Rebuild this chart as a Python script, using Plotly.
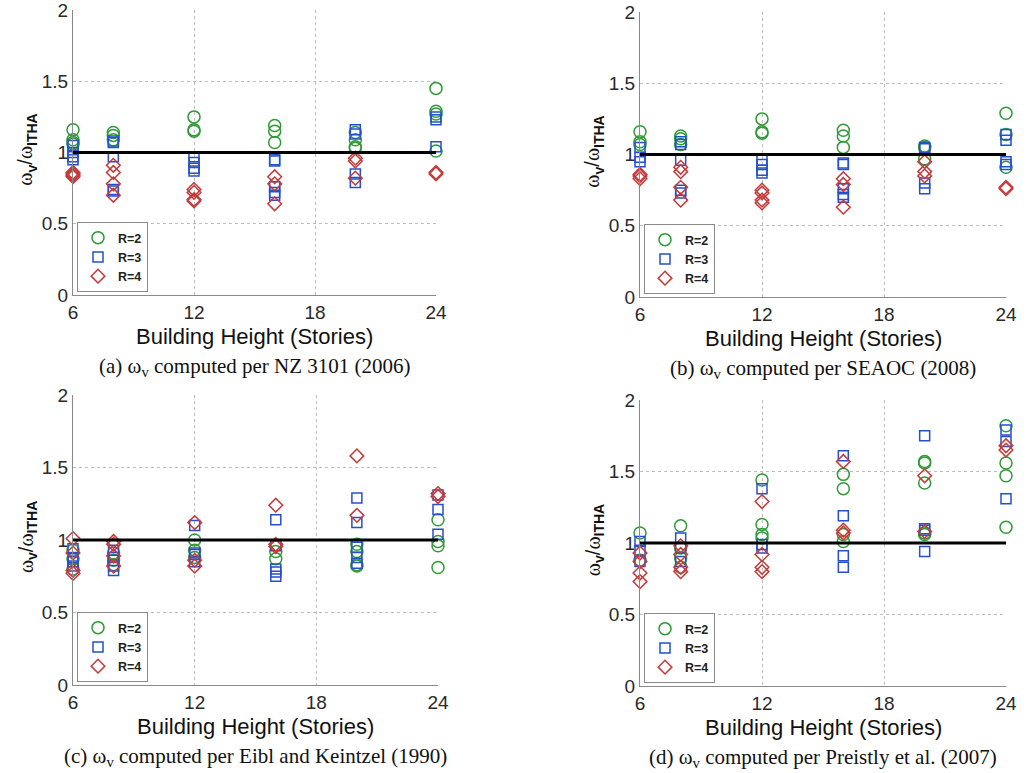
import plotly.graph_objects as go

W, H = 1033, 773

stories = [6, 8, 12, 16, 20, 24]
x_ticks = [6, 12, 18, 24]
y_ticks = [0, 0.5, 1, 1.5, 2]
y_tick_text = ["0", "0.5", "1", "1.5", "2"]
series_names = ["R=2", "R=3", "R=4"]

# values per story level (one inner list per entry of `stories`)
a_R2 = [[1.16, 1.09, 1.07, 1.06], [1.14, 1.12, 1.09], [1.25, 1.16, 1.15], [1.19, 1.15, 1.07], [1.14, 1.09, 1.04, 1.03], [1.45, 1.29, 1.27, 1.01]]
a_R3 = [[1.05, 1.00, 0.97, 0.95], [1.08, 1.07, 0.97, 0.74, 0.73], [0.97, 0.93, 0.89, 0.87], [0.95, 0.94, 0.76, 0.72, 0.70], [1.16, 1.13, 0.85, 0.79], [1.25, 1.23, 1.04]]
a_R4 = [[0.86, 0.85, 0.84, 0.83], [0.91, 0.86, 0.78, 0.70], [0.74, 0.72, 0.67, 0.66], [0.83, 0.78, 0.64], [0.96, 0.94, 0.82], [0.86, 0.85]]

b_R2 = [[1.16, 1.09, 1.07], [1.13, 1.11, 1.07], [1.25, 1.16, 1.15], [1.17, 1.13, 1.05], [1.06, 1.05, 0.97], [1.29, 1.14, 0.91]]
b_R3 = [[1.05, 0.98, 0.95], [1.09, 1.07, 0.96, 0.75, 0.73], [0.96, 0.93, 0.89, 0.87], [0.94, 0.93, 0.76, 0.72, 0.70], [1.05, 1.04, 0.80, 0.76], [1.14, 1.10, 0.95, 0.93]]
b_R4 = [[0.86, 0.85, 0.83], [0.91, 0.88, 0.77, 0.68], [0.75, 0.73, 0.68, 0.66], [0.83, 0.79, 0.63], [0.95, 0.88, 0.85], [0.77, 0.76]]

c_R2 = [[0.93, 0.87, 0.80], [0.91, 0.86, 0.83], [1.00, 0.93, 0.88], [0.92, 0.87], [0.97, 0.92, 0.83, 0.82], [1.14, 0.99, 0.96, 0.81]]
c_R3 = [[0.94, 0.88, 0.85, 0.82], [0.93, 0.88, 0.82, 0.79], [1.10, 0.91, 0.90, 0.85], [1.14, 0.96, 0.80, 0.78, 0.75], [1.29, 1.12, 0.95, 0.88, 0.84], [1.31, 1.21, 1.04]]
c_R4 = [[1.01, 0.91, 0.79, 0.77], [0.99, 0.97, 0.89, 0.82], [1.12, 0.86, 0.82], [1.24, 0.97, 0.955], [1.58, 1.17], [1.32, 1.30]]

d_R2 = [[1.07, 0.88], [1.12, 0.965, 0.895, 0.83], [1.44, 1.13, 1.06, 1.035], [1.48, 1.38, 1.06, 1.01], [1.57, 1.56, 1.42, 1.07, 1.06], [1.82, 1.56, 1.47, 1.11]]
d_R3 = [[1.01, 0.95, 0.87], [1.035, 0.965, 0.87], [1.38, 0.99, 0.965], [1.61, 1.19, 0.91, 0.83], [1.75, 1.10, 1.09, 0.94], [1.79, 1.71, 1.31]]
d_R4 = [[0.93, 0.87, 0.79, 0.73], [0.98, 0.92, 0.83, 0.80], [1.29, 0.92, 0.83, 0.80], [1.57, 1.09, 1.07], [1.47, 1.08], [1.68, 1.65]]

reference_ratio = 1.0

captions = [
    "(a) ω<sub>v</sub> computed per NZ 3101 (2006)",
    "(b) ω<sub>v</sub> computed per SEAOC (2008)",
    "(c) ω<sub>v</sub> computed per Eibl and Keintzel (1990)",
    "(d) ω<sub>v</sub> computed per Preistly et al. (2007)",
]
x_title = "Building Height (Stories)"
y_title = ("<span style='font-family:Liberation Serif'>ω</span><sub><b>v</b></sub>/"
           "<span style='font-family:Liberation Serif'>ω</span><sub><b>ITHA</b></sub>")

# plot boxes in pixels: (left, right, top, bottom)
panels = [
    dict(data=[a_R2, a_R3, a_R4], box=(73, 436, 10, 295)),
    dict(data=[b_R2, b_R3, b_R4], box=(640, 1006, 12, 297)),
    dict(data=[c_R2, c_R3, c_R4], box=(73, 438, 395, 685)),
    dict(data=[d_R2, d_R3, d_R4], box=(640, 1006, 400, 686)),
]

colors = ["#2f9a36", "#2450cc", "#c53a3a"]
symbols = ["circle-open", "square-open", "diamond-open"]
sizes = [12, 10, 10.5]

SANS = "Liberation Sans, Arial"
SERIF = "Liberation Serif, Times New Roman"


def px_x(p):
    return p / W


def px_y(p):
    return 1 - p / H


fig = go.Figure()
annotations = []
layout = {}

for i, pan in enumerate(panels):
    n = "" if i == 0 else str(i + 1)
    x0, x1, y0, y1 = pan["box"]
    xa, ya = "x" + n, "y" + n
    leg = "legend" + n
    common = dict(
        showgrid=True, gridcolor="#bdbdbd", griddash="dot", gridwidth=1,
        showline=True, linecolor="#8a8a8a", linewidth=1, mirror=False,
        ticks="", zeroline=False, automargin=False, ticklabeloverflow="allow",
        tickfont=dict(family=SANS, size=19, color="#2a2a2a"),
    )
    layout["xaxis" + n] = dict(domain=[px_x(x0), px_x(x1)], anchor=ya, range=[6, 24],
                               tickvals=x_ticks, **common)
    layout["yaxis" + n] = dict(domain=[px_y(y1), px_y(y0)], anchor=xa, range=[0, 2],
                               tickvals=y_ticks, ticktext=y_tick_text, **common)
    for s, vals in enumerate(pan["data"]):
        xs, ys = [], []
        for st, group in zip(stories, vals):
            for v in group:
                xs.append(st)
                ys.append(v)
        fig.add_trace(go.Scatter(
            x=xs, y=ys, mode="markers", name=series_names[s],
            xaxis=xa, yaxis=ya, legend=leg, cliponaxis=False,
            marker=dict(symbol=symbols[s], size=sizes[s], color=colors[s],
                        line=dict(width=1.5, color=colors[s])),
        ))
    fig.add_trace(go.Scatter(
        x=[6, 24], y=[reference_ratio, reference_ratio], mode="lines",
        xaxis=xa, yaxis=ya, showlegend=False, hoverinfo="skip",
        line=dict(color="black", width=3),
    ))
    layout[leg] = dict(
        x=px_x(x0 + 4), y=px_y(y1 - 3), xanchor="left", yanchor="bottom",
        bgcolor="white", bordercolor="#8a8a8a", borderwidth=1,
        font=dict(family=SANS, size=12.5, color="#222", weight="bold"),
        itemwidth=30, tracegroupgap=0,
    )
    cx = (x0 + x1) / 2
    annotations.append(dict(
        text=x_title, x=px_x(cx), y=px_y(y1 + 41), xref="paper", yref="paper",
        showarrow=False, xanchor="center", yanchor="middle",
        font=dict(family=SANS, size=22, color="#111"),
    ))
    annotations.append(dict(
        text=captions[i], x=px_x(cx), y=px_y(y1 + 72),
        xref="paper", yref="paper", showarrow=False, xanchor="center", yanchor="middle",
        font=dict(family=SERIF, size=21, color="#111"),
    ))
    annotations.append(dict(
        text=y_title, x=px_x(x0 - 46), y=px_y(y0 + (y1 - y0) * 0.49),
        xref="paper", yref="paper", showarrow=False, textangle=-90,
        xanchor="center", yanchor="middle",
        font=dict(family=SANS, size=20, color="#111"),
    ))

fig.update_layout(
    template="none",
    width=W, height=H, margin=dict(l=0, r=0, t=0, b=0, autoexpand=False),
    paper_bgcolor="white", plot_bgcolor="white",
    annotations=annotations, **layout,
)

fig.write_html("out.html", config={"displayModeBar": False},
               post_script="document.body.style.margin='0';")
